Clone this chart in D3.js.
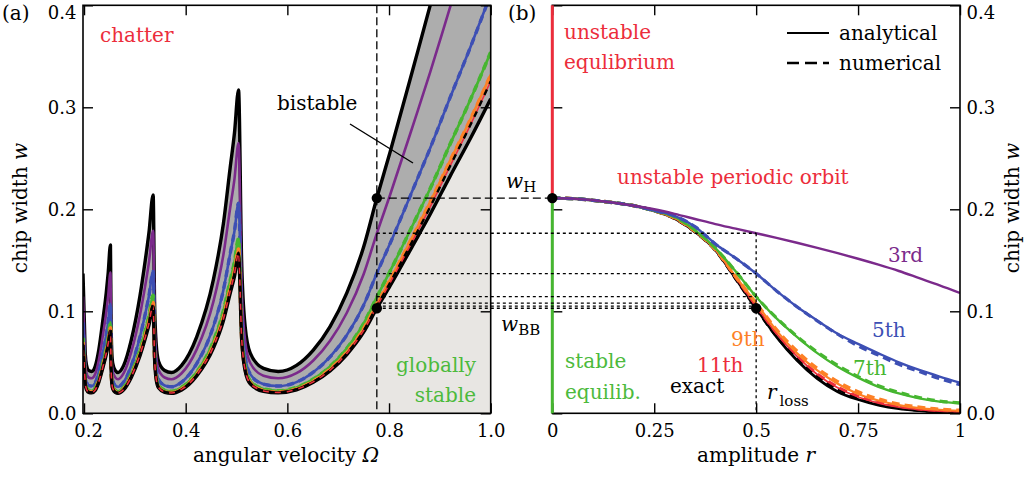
<!DOCTYPE html>
<html><head><meta charset="utf-8">
<script src="https://cdn.jsdelivr.net/npm/d3@7"></script>
<style>
body{margin:0;background:#fff}
text{font-family:"DejaVu Serif",serif;}
</style>
</head><body>
<svg id="c" width="1025" height="477"></svg>
<script>
// ---------- panel (a): stability boundaries w(Omega) ----------
const omega = [0.198,0.2012,0.2025,0.205,0.209,0.215,0.222,0.229,0.238,0.2437,0.2476,0.252,0.2532,0.2545,0.2565,0.2615,0.267,0.278,0.293,0.310,0.3205,0.3277,0.336,0.3388,0.342,0.3466,0.3586,0.372,0.392,0.4217,0.4545,0.4742,0.4873,0.496,0.504,0.510,0.517,0.527,0.553,0.582,0.618,0.651,0.684,0.717,0.750,0.776,0.802,0.850,0.881,0.920,0.960,1.000];
const wHopf = [0.137,0.080,0.058,0.047,0.042,0.041,0.046,0.062,0.095,0.118,0.138,0.165,0.092,0.062,0.049,0.042,0.040,0.047,0.072,0.115,0.150,0.177,0.214,0.109,0.068,0.051,0.042,0.040,0.047,0.075,0.131,0.186,0.240,0.275,0.317,0.150,0.085,0.059,0.044,0.041,0.047,0.062,0.085,0.118,0.163,0.211,0.256,0.343,0.400,0.476,0.552,0.632];
const w3rd = [0.1145,0.0669,0.0485,0.0393,0.0351,0.0343,0.0385,0.0518,0.0794,0.0986,0.1154,0.1379,0.0769,0.0518,0.041,0.0351,0.0334,0.0393,0.0602,0.0961,0.1254,0.148,0.1789,0.0911,0.0568,0.0426,0.0351,0.0334,0.0393,0.0627,0.1095,0.1555,0.2006,0.2299,0.265,0.1254,0.0711,0.0493,0.0368,0.0343,0.0393,0.0518,0.0711,0.0986,0.1363,0.1764,0.214,0.2867,0.3344,0.3979,0.4615,0.5284];
const w5th = [0.089,0.052,0.0377,0.0306,0.0273,0.0267,0.0299,0.0403,0.0618,0.0767,0.0897,0.1073,0.0598,0.0403,0.0319,0.0273,0.026,0.0306,0.0468,0.0748,0.0975,0.1151,0.1391,0.0709,0.0442,0.0332,0.0273,0.026,0.0306,0.0488,0.0852,0.1209,0.156,0.1788,0.2061,0.0975,0.0553,0.0384,0.0286,0.0267,0.0306,0.0403,0.0553,0.0767,0.106,0.1372,0.1664,0.223,0.26,0.3094,0.3588,0.4108];
const w7th = [0.074,0.0432,0.0313,0.0254,0.0227,0.0221,0.0248,0.0335,0.0513,0.0637,0.0745,0.0891,0.0497,0.0335,0.0265,0.0227,0.0216,0.0254,0.0389,0.0621,0.081,0.0956,0.1156,0.0589,0.0367,0.0275,0.0227,0.0216,0.0254,0.0405,0.0707,0.1004,0.1296,0.1485,0.1712,0.081,0.0459,0.0319,0.0238,0.0221,0.0254,0.0335,0.0459,0.0637,0.088,0.1139,0.1393,0.188,0.2204,0.2637,0.3075,0.3539];
const w9th = [0.0696,0.0406,0.0295,0.0239,0.0213,0.0208,0.0234,0.0315,0.0483,0.0599,0.0701,0.0838,0.0467,0.0315,0.0249,0.0213,0.0203,0.0239,0.0366,0.0584,0.0762,0.0899,0.1087,0.0554,0.0345,0.0259,0.0213,0.0203,0.0239,0.0381,0.0665,0.0945,0.1219,0.1397,0.161,0.0762,0.0432,0.03,0.0224,0.0208,0.0239,0.0315,0.0432,0.0599,0.0828,0.1072,0.1308,0.1766,0.2072,0.2475,0.2881,0.3318];
const w11th = [0.0681,0.0398,0.0288,0.0234,0.0209,0.0204,0.0229,0.0308,0.0472,0.0586,0.0686,0.082,0.0457,0.0308,0.0244,0.0209,0.0199,0.0234,0.0358,0.0572,0.0746,0.088,0.1064,0.0542,0.0338,0.0253,0.0209,0.0199,0.0234,0.0373,0.0651,0.0924,0.1193,0.1367,0.1575,0.0746,0.0422,0.0293,0.0219,0.0204,0.0234,0.0308,0.0422,0.0586,0.081,0.1049,0.128,0.1725,0.2024,0.2423,0.2826,0.3255];
const wExact = [0.0669,0.039,0.0283,0.0229,0.0205,0.02,0.0224,0.0303,0.0464,0.0576,0.0673,0.0805,0.0449,0.0303,0.0239,0.0205,0.0195,0.0229,0.0351,0.0561,0.0732,0.0864,0.1044,0.0532,0.0332,0.0249,0.0205,0.0195,0.0229,0.0366,0.0639,0.0908,0.1171,0.1342,0.1547,0.0732,0.0415,0.0288,0.0215,0.02,0.0229,0.0303,0.0415,0.0576,0.0795,0.103,0.1249,0.1674,0.1952,0.2323,0.2694,0.3084];

// ---------- panel (b): w(r) ----------
const amp = [0,0.05,0.1,0.15,0.2,0.25,0.3,0.35,0.4,0.45,0.5,0.55,0.6,0.65,0.7,0.75,0.8,0.85,0.9,0.95,1.0];
const r3rd  = [0.211,0.2105,0.209,0.2065,0.2035,0.2,0.1955,0.1905,0.1855,0.181,0.1765,0.172,0.1672,0.1622,0.157,0.1515,0.1457,0.1395,0.1325,0.1255,0.118];
const r5th  = [0.211,0.2105,0.2088,0.2065,0.2035,0.1988,0.1935,0.183,0.166,0.152,0.137,0.12,0.1045,0.091,0.078,0.068,0.0588,0.05,0.0425,0.036,0.030];
const r7th  = [0.211,0.2105,0.2088,0.2065,0.2035,0.1986,0.1925,0.1795,0.162,0.139,0.1143,0.093,0.075,0.059,0.0457,0.035,0.026,0.0195,0.0147,0.0115,0.0098];
const r9th  = [0.211,0.2105,0.2088,0.2065,0.2035,0.1985,0.1915,0.1785,0.1605,0.134,0.108,0.081,0.059,0.042,0.029,0.019,0.0125,0.008,0.005,0.0035,0.0025];
const r11th = [0.211,0.2105,0.2088,0.2065,0.2035,0.1985,0.1912,0.1782,0.1602,0.1328,0.105,0.078,0.056,0.038,0.025,0.016,0.010,0.006,0.0036,0.0022,0.0015];
const rExact= [0.211,0.2105,0.2088,0.2065,0.2035,0.1985,0.191,0.178,0.160,0.132,0.103,0.075,0.052,0.034,0.0212,0.0135,0.008,0.0045,0.0026,0.0012,0.0006];
const n5th  = [0.211,0.2105,0.2088,0.2065,0.2035,0.1988,0.1935,0.183,0.166,0.152,0.137,0.12,0.1045,0.0905,0.0775,0.066,0.057,0.048,0.041,0.034,0.028];
const n7th  = [0.211,0.2105,0.2088,0.2065,0.2035,0.1986,0.1925,0.1795,0.162,0.139,0.1143,0.0935,0.0755,0.060,0.047,0.036,0.027,0.0205,0.0155,0.012,0.0102];
const n9th  = [0.211,0.2105,0.2088,0.2065,0.2035,0.1985,0.1915,0.1785,0.1605,0.134,0.108,0.082,0.061,0.044,0.031,0.021,0.014,0.009,0.006,0.004,0.003];
const n11th = [0.211,0.2105,0.2088,0.2065,0.2035,0.1985,0.1912,0.1782,0.1602,0.1328,0.105,0.0785,0.057,0.039,0.026,0.017,0.011,0.007,0.004,0.0025,0.0015];
const nExact= [0.211,0.2105,0.2088,0.2065,0.2035,0.1985,0.191,0.178,0.160,0.132,0.103,0.0755,0.054,0.036,0.024,0.015,0.009,0.0055,0.003,0.0016,0.0008];

// ---------- ticks / markers ----------
const xTicksA = [0.2,0.4,0.6,0.8,1.0];
const xTickLabelsA = ["0.2","0.4","0.6","0.8","1.0"];
const yTicks = [0,0.1,0.2,0.3,0.4];
const yTickLabels = ["0.0","0.1","0.2","0.3","0.4"];
const xTicksB = [0,0.25,0.5,0.75,1];
const xTickLabelsB = ["0","0.25","0.5","0.75","1"];
const omegaStar = 0.776;
const wH = 0.211;
const rLoss = 0.5;
const wLoss = [0.1765,0.137,0.1143,0.108,0.105,0.103];

// ---------- drawing ----------
const C = {red:"#ec2d3b",purple:"#7b2a8b",blue:"#3d4fb4",green:"#46b630",orange:"#fd8126",dark:"#adadad",light:"#e8e6e3",gtext:"#4cba3c"};
const svg = d3.select("#c");
const xa = d3.scaleLinear([0.198,1.0],[83,490.7]);
const xb = d3.scaleLinear([0,1],[552.3,960]);
const y  = d3.scaleLinear([0,0.4],[413.3,5.3]);

const defs = svg.append("defs");
defs.append("clipPath").attr("id","clipA").append("rect").attr("x",83).attr("y",5.3).attr("width",407.7).attr("height",408);
defs.append("clipPath").attr("id","clipB").append("rect").attr("x",552.3).attr("y",5.3).attr("width",407.7).attr("height",408);

const gA = svg.append("g").attr("clip-path","url(#clipA)");
const idx = d3.range(omega.length);
gA.append("path").datum(idx).attr("fill",C.light)
  .attr("d",d3.area().x(i=>xa(omega[i])).y0(y(0)).y1(i=>y(wExact[i])).curve(d3.curveMonotoneX));
gA.append("path").datum(idx).attr("fill",C.dark)
  .attr("d",d3.area().x(i=>xa(omega[i])).y0(i=>y(wExact[i])).y1(i=>y(wHopf[i])).curve(d3.curveMonotoneX));

function lineA(arr,color,w,dash){
  gA.append("path").datum(idx).attr("fill","none").attr("stroke",color).attr("stroke-width",w)
    .attr("stroke-linejoin","round").attr("stroke-dasharray",dash||null)
    .attr("d",d3.line().x(i=>xa(omega[i])).y(i=>y(arr[i])).curve(d3.curveMonotoneX));
}
lineA(wHopf,"#000",3.4);
lineA(w3rd,C.purple,2.6);
lineA(w5th,C.blue,2.6);
lineA(w5th,C.blue,3.4,"7,5");
lineA(w7th,C.green,2.6);
lineA(w7th,C.green,3.6,"7,5");
lineA(w9th,C.orange,2.6);
lineA(w9th,C.orange,3.6,"7,5");
lineA(wExact,"#000",3.4);
lineA(w11th,C.red,1.6);
lineA(w11th,"#000",2.4,"6,6");

// panel b curves
const gB = svg.append("g").attr("clip-path","url(#clipB)");
const idxB = d3.range(amp.length);
function lineB(arr,color,w,dash){
  gB.append("path").datum(idxB).attr("fill","none").attr("stroke",color).attr("stroke-width",w)
    .attr("stroke-dasharray",dash||null)
    .attr("d",d3.line().x(i=>xb(amp[i])).y(i=>y(arr[i])).curve(d3.curveMonotoneX));
}
lineB(rExact,"#000",2.8);
lineB(nExact,"#000",3.4,"8,5");
lineB(r11th,C.red,1.8);
lineB(n11th,C.red,2.6,"8,5");
lineB(r9th,C.orange,2.2);
lineB(n9th,C.orange,3.4,"8,5");
lineB(r7th,C.green,2.4);
lineB(n7th,C.green,3.2,"8,5");
lineB(r5th,C.blue,2.4);
lineB(n5th,C.blue,3.2,"8,5");
lineB(r3rd,C.purple,2.4);

// frames
svg.append("rect").attr("x",83).attr("y",5.3).attr("width",407.7).attr("height",408).attr("fill","none").attr("stroke","#000").attr("stroke-width",1.6);
svg.append("rect").attr("x",552.3).attr("y",5.3).attr("width",407.7).attr("height",408).attr("fill","none").attr("stroke","#000").attr("stroke-width",1.6);

// axes
function clean(g){ g.select(".domain").remove(); g.selectAll("line").attr("stroke-width",1.4); g.selectAll("text").attr("font-family","DejaVu Serif").attr("font-size",18).attr("fill","#000"); }
function nudgeTop(g){ g.selectAll(".tick").filter(d=>d===0.4).select("text").attr("y",7); }
svg.append("g").attr("transform","translate(0,413.3)")
  .call(d3.axisBottom(xa).tickValues(xTicksA).tickFormat((d,i)=>xTickLabelsA[i]).tickSize(-10).tickPadding(11))
  .call(clean).call(g=>g.select("text").attr("dx",4));
svg.append("g").attr("transform","translate(0,5.3)")
  .call(d3.axisTop(xa).tickValues(xTicksA).tickFormat("").tickSize(-10)).call(clean);
svg.append("g").attr("transform","translate(83,0)")
  .call(d3.axisLeft(y).tickValues(yTicks).tickFormat((d,i)=>yTickLabels[i]).tickSize(-10).tickPadding(6.5)).call(clean).call(nudgeTop);
svg.append("g").attr("transform","translate(490.7,0)")
  .call(d3.axisRight(y).tickValues(yTicks).tickFormat("").tickSize(-10)).call(clean);

svg.append("g").attr("transform","translate(0,413.3)")
  .call(d3.axisBottom(xb).tickValues(xTicksB).tickFormat((d,i)=>xTickLabelsB[i]).tickSize(-10).tickPadding(11)).call(clean);
svg.append("g").attr("transform","translate(0,5.3)")
  .call(d3.axisTop(xb).tickValues(xTicksB).tickFormat("").tickSize(-10)).call(clean);
svg.append("g").attr("transform","translate(552.3,0)")
  .call(d3.axisLeft(y).tickValues(yTicks).tickFormat("").tickSize(-10)).call(clean);
svg.append("g").attr("transform","translate(960,0)")
  .call(d3.axisRight(y).tickValues(yTicks).tickFormat((d,i)=>yTickLabels[i]).tickSize(-10).tickPadding(6.5)).call(clean).call(nudgeTop);

// equilibrium line at r=0
svg.append("line").attr("x1",xb(0)).attr("x2",xb(0)).attr("y1",y(0.4)).attr("y2",y(wH)).attr("stroke",C.red).attr("stroke-width",3);
svg.append("line").attr("x1",xb(0)).attr("x2",xb(0)).attr("y1",y(wH)).attr("y2",y(0)).attr("stroke",C.green).attr("stroke-width",3);

// reference lines
const ref = svg.append("g").attr("stroke","#000").attr("fill","none");
ref.append("line").attr("x1",xa(omegaStar)).attr("x2",xa(omegaStar)).attr("y1",y(0.4)).attr("y2",y(0)).attr("stroke-width",1.3).attr("stroke-dasharray","8,4");
ref.append("line").attr("x1",xa(omegaStar)).attr("x2",xb(0)).attr("y1",y(wH)).attr("y2",y(wH)).attr("stroke-width",1.3).attr("stroke-dasharray","8,4");
wLoss.forEach(v=>{
  ref.append("line").attr("x1",xa(omegaStar)).attr("x2",xb(rLoss)).attr("y1",y(v)).attr("y2",y(v)).attr("stroke-width",1.3).attr("stroke-dasharray","3,3");
});
ref.append("line").attr("x1",xb(rLoss)).attr("x2",xb(rLoss)).attr("y1",y(wLoss[0])).attr("y2",y(0)).attr("stroke-width",1.3).attr("stroke-dasharray","3,3");

// dots
[[xa(omegaStar),y(wH)],[xa(omegaStar),y(wLoss[5])],[xb(0),y(wH)],[xb(rLoss),y(wLoss[5])]].forEach(p=>{
  svg.append("circle").attr("cx",p[0]).attr("cy",p[1]).attr("r",5.2).attr("fill","#000");
});

// annotation line for "bistable"
svg.append("line").attr("x1",350).attr("y1",124).attr("x2",413).attr("y2",163).attr("stroke","#000").attr("stroke-width",1.4);

// texts
function txt(x,yy,s,opt={}){
  const t = svg.append("text").attr("x",x).attr("y",yy).attr("font-size",opt.size||20).attr("fill",opt.color||"#000")
    .attr("text-anchor",opt.anchor||"start");
  if(opt.italic) t.attr("font-style","italic");
  t.text(s); return t;
}
txt(2,20,"(a)");
txt(508,20,"(b)");
txt(100,42,"chatter",{color:C.red});
txt(277,110,"bistable");
txt(476,372,"globally",{color:C.gtext,anchor:"end"});
txt(476,402,"stable",{color:C.gtext,anchor:"end"});
txt(564,39,"unstable",{color:C.red});
txt(564,69,"equlibrium",{color:C.red});
txt(617,184,"unstable periodic orbit",{color:C.red});
txt(565,368,"stable",{color:C.gtext});
txt(565,399,"equilib.",{color:C.gtext});
txt(670,393,"exact");
txt(697,372,"11th",{color:C.red});
txt(731,346,"9th",{color:C.orange});
txt(853,375,"7th",{color:C.green});
txt(872,337,"5th",{color:C.blue});
txt(888,262,"3rd",{color:C.purple});

// w_H, w_BB, r_loss
const tH = svg.append("text").attr("x",506).attr("y",188).attr("font-size",20);
tH.append("tspan").attr("font-style","italic").text("w");
tH.append("tspan").attr("font-size",15).attr("dy",4).text("H");
const tB = svg.append("text").attr("x",501).attr("y",331).attr("font-size",20);
tB.append("tspan").attr("font-style","italic").text("w");
tB.append("tspan").attr("font-size",15).attr("dy",4).text("BB");
const tR = svg.append("text").attr("x",767).attr("y",399).attr("font-size",20);
tR.append("tspan").attr("font-style","italic").text("r");
tR.append("tspan").attr("font-size",15).attr("dx",3).attr("dy",7).text("loss");

// legend
svg.append("line").attr("x1",787).attr("x2",829).attr("y1",33).attr("y2",33).attr("stroke","#000").attr("stroke-width",1.8);
svg.append("line").attr("x1",787).attr("x2",829).attr("y1",63).attr("y2",63).attr("stroke","#000").attr("stroke-width",2.6).attr("stroke-dasharray","12,6");
txt(839,40,"analytical");
txt(839,70,"numerical");

// axis titles
const tx1 = svg.append("text").attr("x",286).attr("y",462).attr("font-size",20).attr("text-anchor","middle");
tx1.append("tspan").text("angular velocity ");
tx1.append("tspan").attr("font-style","italic").text("Ω");
const tx2 = svg.append("text").attr("x",756).attr("y",462).attr("font-size",20).attr("text-anchor","middle");
tx2.append("tspan").text("amplitude ");
tx2.append("tspan").attr("font-style","italic").text("r");
[[27,208],[1019,208]].forEach(p=>{
  const t = svg.append("text").attr("transform",`translate(${p[0]},${p[1]}) rotate(-90)`).attr("font-size",20).attr("text-anchor","middle");
  t.append("tspan").text("chip width ");
  t.append("tspan").attr("font-style","italic").text("w");
});
</script>
</body></html>
